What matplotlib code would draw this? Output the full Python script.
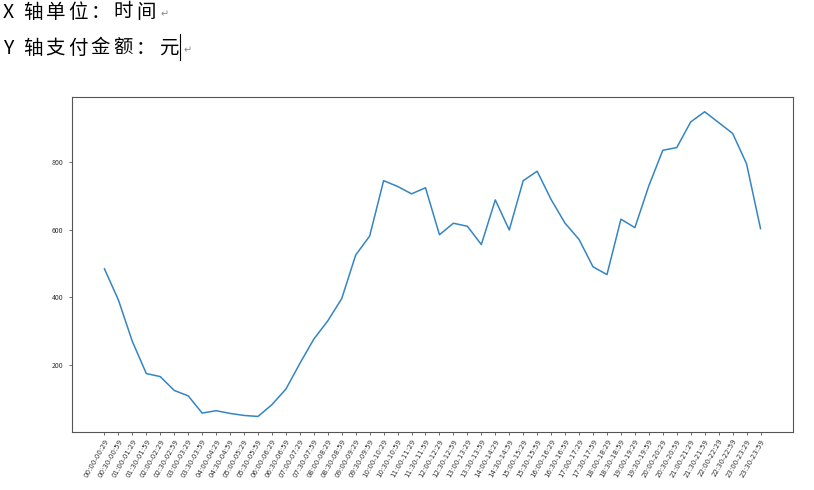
import numpy as np
import matplotlib.pyplot as plt

plt.rcParams['font.family'] = ['Noto Sans CJK SC', 'DejaVu Sans']

# half-hour time slots
time_labels = ['%02d:%02d-%02d:%02d' % (h, m, h, m + 29)
               for h in range(24) for m in (0, 30)]

# payment amount per slot (yuan)
amounts = [484, 392, 269, 174, 165, 124, 108, 57, 64, 56, 50, 47,
           82, 128, 204, 276, 330, 396, 525, 581, 745, 728, 706, 724,
           585, 619, 610, 556, 688, 599, 745, 773, 689, 619, 571, 490,
           467, 631, 606, 730, 835, 843, 919, 949, 917, 885, 795, 603]

header_lines = ['X 轴单位：时间', 'Y 轴支付金额：元']

W, H = 814, 490
fig = plt.figure(figsize=(W / 100, H / 100), dpi=100)
ax = fig.add_axes([0.088, 0.119, 0.8866, 0.684])

x = np.arange(len(amounts))
ax.plot(x, amounts, color='#3485c3', linewidth=1.1)
ax.set_xticks(x)
ax.set_xticklabels(time_labels, rotation=60, ha='right', rotation_mode='anchor',
                   fontsize=5, color='#333333', family='DejaVu Sans')
ax.set_yticks([200, 400, 600, 800])
ax.tick_params(axis='y', labelsize=5, labelcolor='#333333', length=2.5, width=0.6, color='#555555')
ax.tick_params(axis='x', length=2.5, width=0.6, color='#555555', pad=2)
for s in ax.spines.values():
    s.set_color('#555555')
    s.set_linewidth(0.8)


# header text like the document it was pasted in, with wide character spacing
def header(text, baseline_px):
    px = 3
    for ch in text:
        fig.text(px / W, 1 - baseline_px / H, ch, fontsize=14, va='baseline', ha='left')
        if ch == ' ':
            px += 6
        elif ch.isascii():
            px += 14
        else:
            px += 22.6
    fig.text((px + 2) / W, 1 - baseline_px / H, '↵', fontsize=7, color='#888888',
             va='baseline', family='DejaVu Sans')
    return px


header(header_lines[0], 17.5)
end = header(header_lines[1], 53.5)
fig.add_artist(plt.Line2D([(end - 1) / W] * 2, [1 - 60 / H, 1 - 34 / H],
                          color='black', linewidth=0.8))

fig.savefig('out.png', dpi=100)
